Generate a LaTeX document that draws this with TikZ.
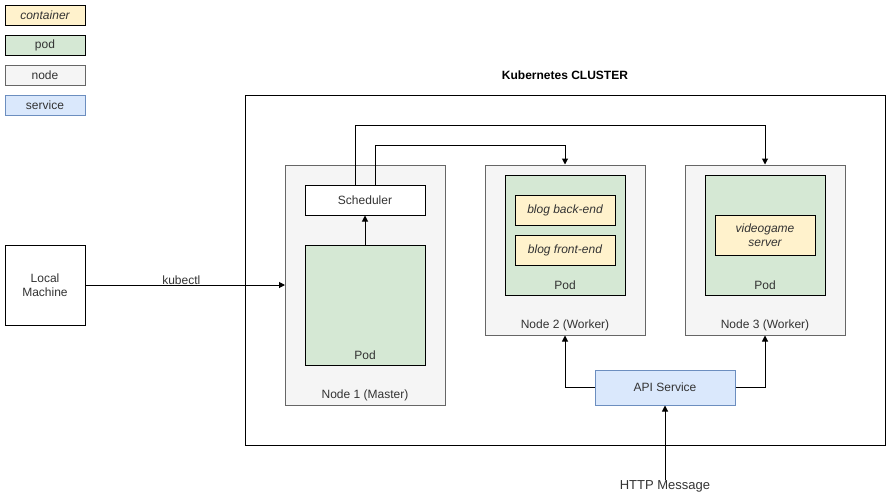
\documentclass[tikz,border=0pt]{standalone}
\usepackage{fontspec}
\setmainfont{Liberation Sans}
\usetikzlibrary{arrows.meta}
\definecolor{contf}{HTML}{FFF2CC}
\definecolor{podf}{HTML}{D5E8D4}
\definecolor{nodef}{HTML}{F5F5F5}
\definecolor{nodes}{HTML}{666666}
\definecolor{servf}{HTML}{DAE8FC}
\definecolor{servs}{HTML}{6C8EBF}
\definecolor{txt}{HTML}{333333}
\begin{document}
\begin{tikzpicture}[x=1pt,y=-1pt,
  every node/.style={font=\fontsize{12}{14}\selectfont, text=txt, inner sep=0pt},
  box/.style={draw=black, line width=1pt},
  contbox/.style={box, fill=contf},
  podbox/.style={box, fill=podf},
  nodebox/.style={draw=nodes, line width=1pt, fill=nodef},
  servbox/.style={draw=servs, line width=1pt, fill=servf},
  plainbox/.style={box, fill=white},
  conn/.style={draw=black, line width=1pt, -{Triangle[length=6pt,width=6pt]}},
  lbl/.style={anchor=center}]
\useasboundingbox (0,0) rectangle (891,501);
% legend
\draw[contbox] (5,5) rectangle (85,25);
\node[lbl] (lcont) at (45,15) {\itshape container};
\draw[podbox] (5,35) rectangle (85,55);
\node[lbl] (lpod) at (45,45) {pod};
\draw[nodebox] (5,65) rectangle (85,85);
\node[lbl] (lnode) at (45,75) {node};
\draw[servbox] (5,95) rectangle (85,115);
\node[lbl] (lserv) at (45,105) {service};
% cluster
\node[lbl, text=black] (title) at (565,75) {\fontsize{12}{14}\selectfont\bfseries Kubernetes CLUSTER};
\draw[box] (245,95) rectangle (885,445);
% node 1
\draw[nodebox] (285,165) rectangle (445,405);
\node[lbl] (n1lbl) at (365,395) {Node 1 (Master)};
\node[plainbox, minimum width=120pt, minimum height=30pt] (sched) at (365,200) {Scheduler};
\node[podbox, minimum width=120pt, minimum height=120pt] (pod1) at (365,305) {};
\node[lbl] (pod1lbl) at (365,355) {Pod};
% node 2
\node[nodebox, minimum width=160pt, minimum height=170pt] (node2) at (565,250) {};
\node[lbl] (n2lbl) at (565,325) {Node 2 (Worker)};
\node[podbox, minimum width=120pt, minimum height=120pt] (pod2) at (565,235) {};
\node[lbl] (pod2lbl) at (565,285) {Pod};
\node[contbox, minimum width=100pt, minimum height=30pt, font=\fontsize{12}{14}\selectfont\itshape] (back) at (565,210) {blog back-end};
\node[contbox, minimum width=100pt, minimum height=30pt, font=\fontsize{12}{14}\selectfont\itshape] (front) at (565,250) {blog front-end};
% node 3
\node[nodebox, minimum width=160pt, minimum height=170pt] (node3) at (765,250) {};
\node[lbl] (n3lbl) at (765,325) {Node 3 (Worker)};
\node[podbox, minimum width=120pt, minimum height=120pt] (pod3) at (765,235) {};
\node[lbl] (pod3lbl) at (765,285) {Pod};
\node[contbox, minimum width=100pt, minimum height=40pt, align=center, font=\fontsize{12}{14}\selectfont\itshape] (video) at (765,235) {videogame\\server};
% api
\node[servbox, minimum width=140pt, minimum height=35pt] (api) at (665,387.5) {API Service};
% local machine
\node[box, fill=white, minimum width=80pt, minimum height=80pt, align=center] (local) at (45,285) {Local\\Machine};
\coordinate (node1w) at (285,285);
\draw[conn] (local.east) -- node[above=5pt, lbl, pos=0.48] (kub) {kubectl} (node1w);
% http
\node[lbl, font=\fontsize{13}{15}\selectfont] (http) at (665,486) {HTTP Message};
\draw[conn] (http.north) -- (api.south);
% pod1 -> scheduler
\draw[conn] (pod1.north) -- (sched.south);
% scheduler -> node3, node2
\draw[conn] ([xshift=-10pt]sched.north) |- (765,125) -- (node3.north);
\draw[conn] ([xshift=10pt]sched.north) |- (565,145) -- (node2.north);
% api -> nodes
\draw[conn] (api.west) -| (node2.south);
\draw[conn] (api.east) -| (node3.south);
\end{tikzpicture}
\end{document}
